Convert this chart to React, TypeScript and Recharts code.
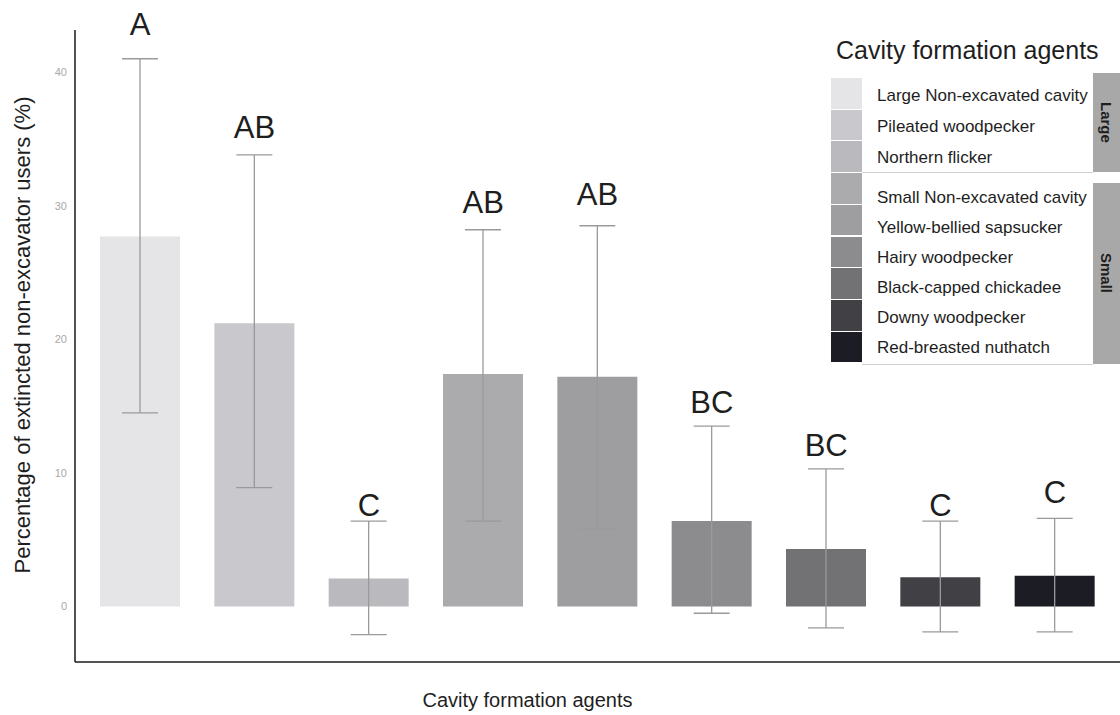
import React from "react";
import { ComposedChart, Bar, Cell, ErrorBar, Line, LabelList, XAxis, YAxis } from "recharts";

// cavity formation agents, in plot order
const agents = [
  "Large Non-excavated cavity",
  "Pileated woodpecker",
  "Northern flicker",
  "Small Non-excavated cavity",
  "Yellow-bellied sapsucker",
  "Hairy woodpecker",
  "Black-capped chickadee",
  "Downy woodpecker",
  "Red-breasted nuthatch",
];
const sizeGroups = ["Large", "Small"];
const groupOf = ["Large", "Large", "Large", "Small", "Small", "Small", "Small", "Small", "Small"];

// % of extincted non-excavator users, with 95% interval
const means = [27.7, 21.2, 2.1, 17.4, 17.2, 6.4, 4.3, 2.2, 2.3];
const lower = [14.5, 8.9, -2.1, 6.4, 5.8, -0.5, -1.6, -1.9, -1.9];
const upper = [41.0, 33.8, 6.4, 28.2, 28.5, 13.5, 10.3, 6.4, 6.6];

// compact letter display and where it sits (data units)
const letters = ["A", "AB", "C", "AB", "AB", "BC", "BC", "C", "C"];
const letterY = [43.6, 35.9, 7.6, 30.3, 30.9, 15.3, 12.1, 7.6, 8.6];

const yTicks = [0, 10, 20, 30, 40];
const shades = ["#e5e5e8", "#c9c9cd", "#bababe", "#ababad", "#9e9ea0", "#8c8c8f", "#727275", "#404045", "#1c1c25"];

const FONT = '"Liberation Sans", Arial, Helvetica, sans-serif';
const INK = "#1e1e1e";

const rows = agents.map((agent, i) => ({
  agent,
  mean: means[i],
  err: [means[i] - lower[i], upper[i] - means[i]],
  letterY: letterY[i],
  letter: letters[i],
}));

function YTitle(props: any) {
  const vb = props.viewBox || { x: 0, y: 0, width: 0, height: 0 };
  const cx = vb.x + 22;
  const cy = vb.y + vb.height / 2 - 11;
  return (
    <text x={cx} y={cy} transform={`rotate(-90, ${cx}, ${cy})`} textAnchor="middle" dy="0.35em" fontSize={22} fill={INK}>
      Percentage of extincted non-excavator users (%)
    </text>
  );
}

function XTitle(props: any) {
  const vb = props.viewBox || { x: 0, y: 0, width: 0, height: 0 };
  return (
    <text x={vb.x + vb.width / 2 - 70} y={vb.y + 38} textAnchor="middle" dy="0.35em" fontSize={20} fill={INK}>
      Cavity formation agents
    </text>
  );
}

function Letter(props: any) {
  const x = props.x ?? props.viewBox?.x;
  const y = props.y ?? props.viewBox?.y;
  if (x == null || y == null) return null;
  return (
    <text x={x} y={y} dy="0.36em" textAnchor="middle" fontSize={31} fill={INK}>
      {props.value}
    </text>
  );
}

function AgentLegend() {
  const groupBox: Record<string, { top: number; height: number }> = {
    Large: { top: 73, height: 99 },
    Small: { top: 183, height: 181 },
  };
  return (
    <div style={{ position: "absolute", left: 0, top: 0, width: 1120, height: 715, pointerEvents: "none" }}>
      <div style={{ position: "absolute", left: 836, top: 35, fontSize: 25, lineHeight: "30px", color: INK }}>
        Cavity formation agents
      </div>
      {shades.map((c, i) => (
        <div
          key={c}
          style={{ position: "absolute", left: 831, top: 78 + i * 31.7, width: 31, height: 30.7, background: c }}
        />
      ))}
      {sizeGroups.map((g) => {
        const members = agents.filter((_, i) => groupOf[i] === g);
        const box = groupBox[g];
        const rowTop = g === "Large" ? 80 : 183;
        const rowH = g === "Large" ? 31.3 : 30;
        return (
          <React.Fragment key={g}>
            {members.map((name, j) => (
              <div
                key={name}
                style={{
                  position: "absolute",
                  left: 877,
                  top: rowTop + j * rowH,
                  height: rowH,
                  display: "flex",
                  alignItems: "center",
                  fontSize: 17,
                  color: INK,
                  whiteSpace: "nowrap",
                }}
              >
                {name}
              </div>
            ))}
            <div
              style={{
                position: "absolute",
                left: 862,
                top: box.top + box.height,
                width: 231,
                height: 1,
                background: "#cfcfcf",
              }}
            />
            <div
              style={{
                position: "absolute",
                left: 1093,
                top: box.top,
                width: 27,
                height: box.height,
                background: "#a8a8a8",
                display: "flex",
                alignItems: "center",
                justifyContent: "center",
              }}
            >
              <span style={{ writingMode: "vertical-rl", fontSize: 15, fontWeight: "bold", color: INK }}>{g}</span>
            </div>
          </React.Fragment>
        );
      })}
    </div>
  );
}

export default function App() {
  return (
    <div style={{ position: "absolute", left: 0, top: 0, width: 1120, height: 715, fontFamily: FONT, background: "#fff" }}>
      <ComposedChart width={1120} height={715} data={rows} margin={{ top: 30, right: 0, bottom: 0, left: 0 }}>
        <XAxis
          dataKey="agent"
          tick={false}
          tickLine={false}
          height={53}
          padding={{ left: 8, right: 8 }}
          axisLine={{ stroke: "#1a1a1a", strokeWidth: 1.5 }}
          label={<XTitle />}
        />
        <YAxis
          width={75}
          domain={[-4.15, 43.15]}
          allowDataOverflow
          ticks={yTicks}
          tickLine={false}
          axisLine={{ stroke: "#1a1a1a", strokeWidth: 1.5 }}
          tick={{ fill: "#a8a8a8", fontSize: 11 }}
          label={<YTitle />}
        />
        <Bar dataKey="mean" barSize={80} isAnimationActive={false}>
          {rows.map((r, i) => (
            <Cell key={r.agent} fill={shades[i]} />
          ))}
          <ErrorBar dataKey="err" width={18} stroke="#9a9a9a" strokeWidth={1.3} />
        </Bar>
        <Line
          dataKey="letterY"
          stroke="none"
          dot={false}
          activeDot={false}
          legendType="none"
          isAnimationActive={false}
        >
          <LabelList dataKey="letter" content={<Letter />} />
        </Line>
      </ComposedChart>
      <AgentLegend />
    </div>
  );
}
